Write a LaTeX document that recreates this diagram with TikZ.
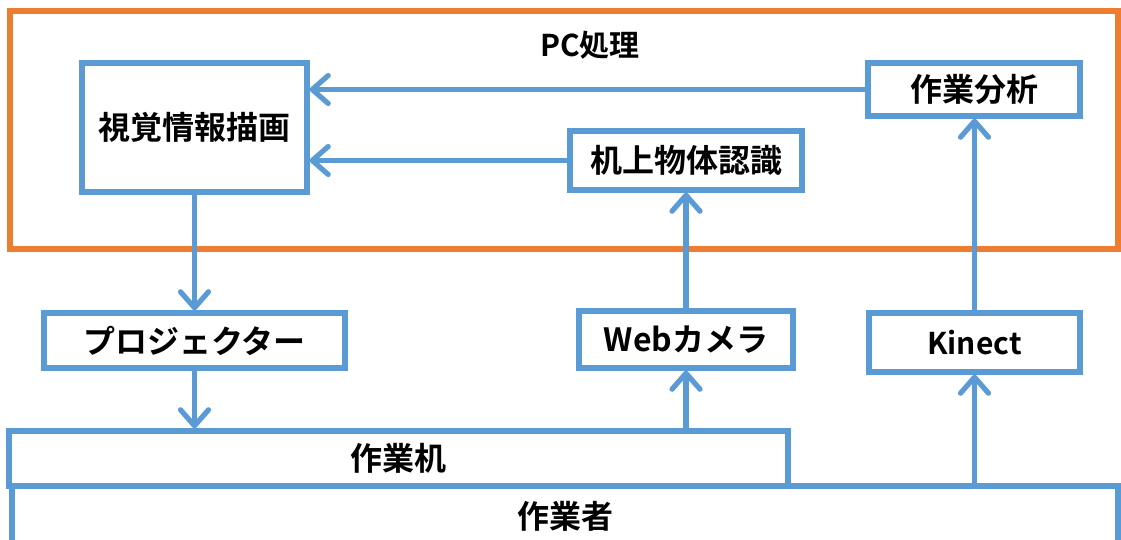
\documentclass[tikz,border=0pt]{standalone}
\usepackage{fontspec}
\setmainfont{Noto Sans CJK JP}[BoldFont={* Bold}]
\usetikzlibrary{arrows.meta}
\definecolor{ublue}{HTML}{5B9BD5}
\definecolor{uorange}{HTML}{ED7D31}
\tikzset{
  box/.style={draw=ublue, line width=2.6pt, fill=white, inner sep=0pt, font=\fontsize{16pt}{18pt}\selectfont\bfseries, text=black},
  conn/.style={draw=ublue, line width=2.6pt, -{Straight Barb[length=8pt,width=14pt,line cap=round,line join=round]}},
  groupbox/.style={draw=uorange, line width=3pt}
}
\begin{document}
\begin{tikzpicture}[x=0.5pt,y=-0.5pt]
\useasboundingbox (0,0) rectangle (1121,540);
\clip (0,0) rectangle (1121,540);
\draw[groupbox] (10,11) rectangle (1118,249);
\node[font=\fontsize{15pt}{17pt}\selectfont\bfseries] (pc) at (590,45) {PC処理};
\node[box, minimum width=112.5pt, minimum height=64.5pt] (vis) at (194.5,127.5) {視覚情報描画};
\node[box, minimum width=106pt, minimum height=26.5pt] (bunseki) at (974,89.5) {作業分析};
\node[box, minimum width=116pt, minimum height=29.5pt] (ninshiki) at (686,160.5) {机上物体認識};
\node[box, minimum width=150.5pt, minimum height=27.5pt] (proj) at (194.5,340.5) {プロジェクター};
\node[box, minimum width=107pt, minimum height=28.5pt] (web) at (686,339.5) {Webカメラ};
\node[box, minimum width=105.5pt, minimum height=29.5pt, font=\fontsize{15pt}{17pt}\selectfont\bfseries] (kinect) at (974.5,342.5) {Kinect};
\node[box, anchor=north, outer sep=0pt, minimum width=553pt, minimum height=30pt] (sagyosha) at (565,486) {\raisebox{1.5pt}{作業者}};
\node[box, minimum width=389.5pt, minimum height=27.5pt] (tsukue) at (398.5,458.5) {作業机};
\draw[conn] (bunseki.west) -- (vis.east |- bunseki.west);
\draw[conn] (ninshiki.west) -- (vis.east |- ninshiki.west);
\draw[conn] (vis.south) -- (proj.north);
\draw[conn] (proj.south) -- (proj.south |- tsukue.north);
\draw[conn] (web.south |- tsukue.north) -- (web.south);
\draw[conn] (web.north) -- (ninshiki.south);
\draw[conn] (kinect.south |- sagyosha.north) -- (kinect.south);
\draw[conn] (kinect.north) -- (bunseki.south -| kinect.north);
\end{tikzpicture}
\end{document}
